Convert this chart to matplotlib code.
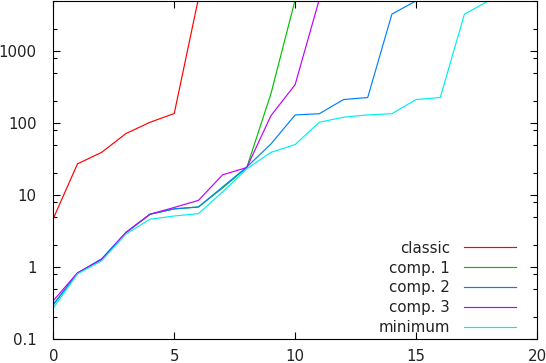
import matplotlib
matplotlib.use("Agg")
import matplotlib.pyplot as plt
import numpy as np
from matplotlib.ticker import FixedLocator, LogLocator, NullFormatter, NullLocator

# values (log scale, clipped at the top)
x_classic = [0, 1, 2, 3, 4, 5, 6]
classic = [4.7, 27, 39, 71, 102, 135, 5300]

x_comp1 = [0, 1, 2, 3, 4, 5, 6, 7, 8, 9, 10]
comp1 = [0.30, 0.82, 1.28, 3.0, 5.4, 6.4, 6.8, 12.5, 24, 255, 5100]

x_comp2 = [0, 1, 2, 3, 4, 5, 6, 7, 8, 9, 10, 11, 12, 13, 14, 15]
comp2 = [0.30, 0.82, 1.30, 3.0, 5.4, 6.4, 6.8, 12.9, 24.4, 51, 129, 134, 211, 225, 3230, 4950]

x_comp3 = [0, 1, 2, 3, 4, 5, 6, 7, 8, 9, 10, 11]
comp3 = [0.34, 0.83, 1.27, 3.0, 5.4, 6.7, 8.4, 19, 24, 126, 340, 5200]

x_minimum = [0, 1, 2, 3, 4, 5, 6, 7, 8, 9, 10, 11, 12, 13, 14, 15, 16, 17, 18]
minimum = [0.27, 0.80, 1.22, 2.86, 4.6, 5.1, 5.5, 11, 23, 39, 50, 102, 120, 129, 134, 211, 225, 3230, 4950]

series = [
    ("classic", x_classic, classic, "#ff0000"),
    ("comp. 1", x_comp1, comp1, "#00c000"),
    ("comp. 2", x_comp2, comp2, "#0080ff"),
    ("comp. 3", x_comp3, comp3, "#c000ff"),
    ("minimum", x_minimum, minimum, "#00eeee"),
]

x_ticks = [0, 5, 10, 15, 20]
y_ticks = [0.1, 1, 10, 100, 1000]
y_tick_labels = ["0.1", "1", "10", "100", "1000"]

plt.rcParams["font.family"] = "DejaVu Sans"
plt.rcParams["font.size"] = 10.8

fig = plt.figure(figsize=(5.46, 3.63), dpi=100)
ax = fig.add_axes([53.3 / 546, 24 / 363, (537 - 53.3) / 546, (363 - 24 - 0.5) / 363])

for label, xs, ys, color in series:
    ax.plot(xs, ys, color=color, lw=0.85, label=label)

ax.set_yscale("log")
ax.set_xlim(0, 20)
ax.set_ylim(0.1, 5000)

ax.xaxis.set_major_locator(FixedLocator(x_ticks))
ax.xaxis.set_minor_locator(NullLocator())
ax.set_xticklabels([str(t) for t in x_ticks])
ax.yaxis.set_major_locator(FixedLocator(y_ticks))
ax.set_yticklabels(y_tick_labels)
ax.yaxis.set_minor_locator(LogLocator(base=10, subs=(2, 5, 8)))
ax.yaxis.set_minor_formatter(NullFormatter())

ax.tick_params(which="both", direction="in", top=True, right=True, width=0.8, colors="black", labelcolor="#222222")
ax.tick_params(which="major", length=5)
ax.tick_params(which="minor", length=3)
ax.tick_params(axis="y", pad=12)
ax.tick_params(axis="x", pad=7.5)
for s in ax.spines.values():
    s.set_linewidth(0.8)

leg = ax.legend(loc="lower right", bbox_to_anchor=(0.957, 0.012), frameon=False,
                markerfirst=False, handlelength=3.5, handletextpad=0.9,
                labelspacing=0.32, borderpad=0, borderaxespad=0)
for t in leg.get_texts():
    t.set_color("#222222")

fig.savefig("out.png", dpi=100)
